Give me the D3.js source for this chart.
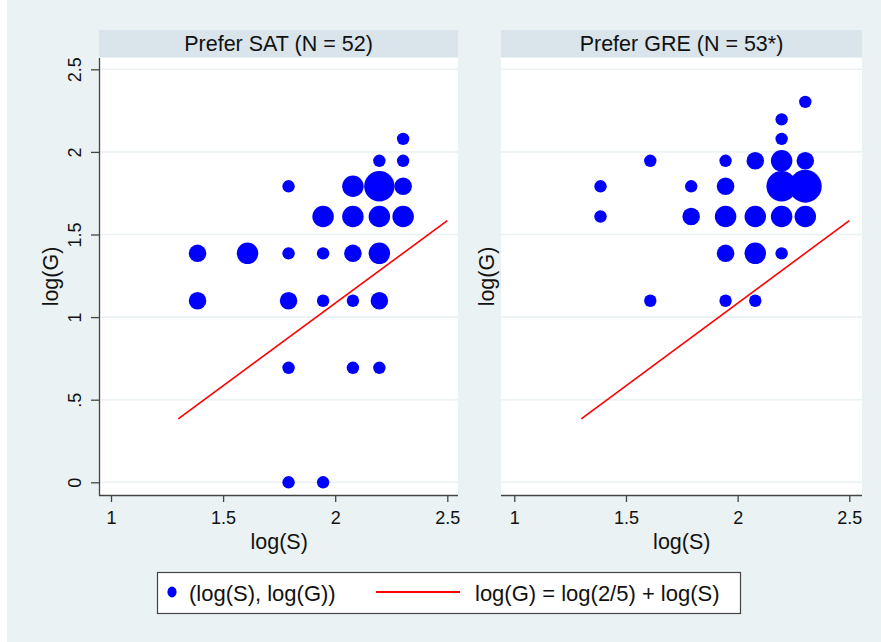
<!DOCTYPE html>
<html>
<head>
<meta charset="utf-8">
<script src="https://cdn.jsdelivr.net/npm/d3@7"></script>
<style>
  body { margin: 0; background: #eaf2f3; }
  svg { display: block; }
  text { font-family: "Liberation Sans", Arial, sans-serif; fill: #111; }
</style>
</head>
<body>
<div id="container"></div>
<script>
// values (natural logs of integer scores)
let panelTitles = ["Prefer SAT (N = 52)", "Prefer GRE (N = 53*)"];

let satLogS  = [1.386, 1.386, 1.609, 1.792, 1.792, 1.792, 1.792, 1.792, 1.946, 1.946, 1.946, 1.946, 2.079, 2.079, 2.079, 2.079, 2.079, 2.197, 2.197, 2.197, 2.197, 2.197, 2.197, 2.303, 2.303, 2.303, 2.303];
let satLogG  = [1.386, 1.099, 1.386, 1.792, 1.386, 1.099, 0.693, 0,     1.609, 1.386, 1.099, 0,     1.792, 1.609, 1.386, 1.099, 0.693, 1.946, 1.792, 1.609, 1.386, 1.099, 0.693, 2.079, 1.946, 1.792, 1.609];
let satCount = [2, 2, 3, 1, 1, 2, 1, 1, 3, 1, 1, 1, 3, 3, 2, 1, 1, 1, 6, 3, 3, 2, 1, 1, 1, 2, 3];

let greLogS  = [1.386, 1.386, 1.609, 1.609, 1.792, 1.792, 1.946, 1.946, 1.946, 1.946, 1.946, 2.079, 2.079, 2.079, 2.079, 2.197, 2.197, 2.197, 2.197, 2.197, 2.197, 2.303, 2.303, 2.303, 2.303];
let greLogG  = [1.792, 1.609, 1.946, 1.099, 1.792, 1.609, 1.946, 1.792, 1.609, 1.386, 1.099, 1.946, 1.609, 1.386, 1.099, 2.197, 2.079, 1.946, 1.792, 1.609, 1.386, 2.303, 1.946, 1.792, 1.609];
let greCount = [1, 1, 1, 1, 1, 2, 1, 2, 3, 2, 1, 2, 3, 3, 1, 1, 1, 3, 6, 3, 1, 1, 2, 7, 3];

let xTicks = [1, 1.5, 2, 2.5];
let xTickLabels = ["1", "1.5", "2", "2.5"];
let yTicks = [0, 0.5, 1, 1.5, 2, 2.5];
let yTickLabels = ["0", ".5", "1", "1.5", "2", "2.5"];

// reference line log(G) = log(2/5) + log(S)
let refLineX = [1.3, 2.5];
let refLineY = [0.384, 1.584];

let legendLabels = ["(log(S), log(G))", "log(G) = log(2/5) + log(S)"];

let w = 881;
let h = 642;
let plotTop = 58;
let plotBottom = 495;

let viz = d3.select("#container")
  .append("svg")
    .attr("width", w)
    .attr("height", h)
;

viz.append("rect").attr("x", 0).attr("y", 0).attr("width", w).attr("height", h).attr("fill", "#eaf2f3");
viz.append("rect").attr("x", 0).attr("y", 0).attr("width", 7).attr("height", h).attr("fill", "#ffffff");

let yScale = d3.scaleLinear().domain([0, 2.5]).range([482.3, 69.3]);
let rScale = d3.scaleSqrt().domain([0, 7]).range([0, 6.2 * Math.sqrt(7)]);

let panels = [
  {title: panelTitles[0], xs: satLogS, ys: satLogG, ns: satCount, left: 99, right: 458, x1: 111, x2: 447.3, yLabels: true, yTitleX: 58},
  {title: panelTitles[1], xs: greLogS, ys: greLogG, ns: greCount, left: 501, right: 862, x1: 514.3, x2: 849.3, yLabels: false, yTitleX: 494}
];

panels.forEach(function(p){
  let g = viz.append("g").attr("class", "panel");
  let xScale = d3.scaleLinear().domain([1, 2.5]).range([p.x1, p.x2]);

  // strip
  g.append("rect")
    .attr("x", p.left).attr("y", 30)
    .attr("width", p.right - p.left).attr("height", 27)
    .attr("fill", "#d9e5eb");
  g.append("text")
    .text(p.title)
    .attr("x", (p.left + p.right) / 2)
    .attr("y", 51)
    .attr("text-anchor", "middle")
    .attr("font-size", "21.5px");

  // plot region
  g.append("rect")
    .attr("x", p.left).attr("y", plotTop)
    .attr("width", p.right - p.left).attr("height", plotBottom - plotTop)
    .attr("fill", "#ffffff");

  // gridlines
  g.selectAll(".grid").data(yTicks).enter()
    .append("line")
      .attr("class", "grid")
      .attr("x1", p.left).attr("x2", p.right)
      .attr("y1", function(d){ return yScale(d); })
      .attr("y2", function(d){ return yScale(d); })
      .attr("stroke", "#eaf2f3")
      .attr("stroke-width", 1.6)
  ;

  // x axis
  let xAxis = d3.axisBottom(xScale).tickValues(xTicks)
    .tickFormat(function(d, i){ return xTickLabels[i]; })
    .tickSize(7).tickPadding(5);
  let xAxisGroup = g.append("g").attr("class", "xaxis")
    .attr("transform", "translate(0," + plotBottom + ")")
    .call(xAxis);
  xAxisGroup.select(".domain").remove();
  xAxisGroup.append("line")
    .attr("x1", p.left).attr("x2", p.right)
    .attr("y1", 0.5).attr("y2", 0.5)
    .attr("stroke", "#444").attr("stroke-width", 1.3);
  xAxisGroup.selectAll(".tick line").attr("stroke", "#444").attr("stroke-width", 1.3);
  xAxisGroup.selectAll(".tick text")
    .attr("font-size", "18px")
    .attr("font-family", "Liberation Sans, Arial, sans-serif")
    .attr("fill", "#111")
    .attr("dy", null)
    .attr("y", 29);

  g.append("text")
    .text("log(S)")
    .attr("x", xScale(1.75))
    .attr("y", 549)
    .attr("text-anchor", "middle")
    .attr("font-size", "21.5px");

  // y axis
  if (p.yLabels) {
    let yAxis = d3.axisLeft(yScale).tickValues(yTicks)
      .tickFormat(function(d, i){ return yTickLabels[i]; })
      .tickSize(8);
    let yAxisGroup = g.append("g").attr("class", "yaxis")
      .attr("transform", "translate(" + p.left + ",0)")
      .call(yAxis);
    yAxisGroup.select(".domain").remove();
    yAxisGroup.append("line")
      .attr("x1", 0.5).attr("x2", 0.5)
      .attr("y1", plotTop).attr("y2", plotBottom + 1)
      .attr("stroke", "#444").attr("stroke-width", 1.3);
    yAxisGroup.selectAll(".tick line").attr("stroke", "#444").attr("stroke-width", 1.3);
    yAxisGroup.selectAll(".tick text")
      .attr("font-size", "18px")
      .attr("font-family", "Liberation Sans, Arial, sans-serif")
      .attr("fill", "#111")
      .attr("x", null).attr("dy", null)
      .attr("text-anchor", "middle")
      .attr("transform", "translate(-18,0) rotate(-90)");
  }

  g.append("text")
    .text("log(G)")
    .attr("transform", "translate(" + p.yTitleX + "," + (plotTop + plotBottom) / 2 + ") rotate(-90)")
    .attr("text-anchor", "middle")
    .attr("font-size", "21.5px");

  // reference line
  let lineData = refLineX.map(function(d, i){ return [d, refLineY[i]]; });
  g.append("path")
    .datum(lineData)
    .attr("d", d3.line()
      .x(function(d){ return xScale(d[0]); })
      .y(function(d){ return yScale(d[1]); }))
    .attr("stroke", "#ff0000")
    .attr("stroke-width", 1.6)
    .attr("fill", "none");

  // weighted markers
  let pts = p.xs.map(function(d, i){ return {x: d, y: p.ys[i], n: p.ns[i]}; });
  g.selectAll(".pt").data(pts).enter()
    .append("circle")
      .attr("class", "pt")
      .attr("cx", function(d){ return xScale(d.x); })
      .attr("cy", function(d){ return yScale(d.y); })
      .attr("r", function(d){ return rScale(d.n); })
      .attr("fill", "#0000ff")
  ;
});

// legend
let legend = viz.append("g").attr("class", "legend");
legend.append("rect")
  .attr("x", 157.5).attr("y", 572.5)
  .attr("width", 583).attr("height", 41)
  .attr("fill", "#ffffff")
  .attr("stroke", "#444")
  .attr("stroke-width", 1.2);
legend.append("ellipse")
  .attr("cx", 172).attr("cy", 592)
  .attr("rx", 4.6).attr("ry", 5.4)
  .attr("fill", "#0000ff");
legend.append("text")
  .text(legendLabels[0])
  .attr("x", 189).attr("y", 601)
  .attr("font-size", "22px");
legend.append("line")
  .attr("x1", 376).attr("x2", 460)
  .attr("y1", 592).attr("y2", 592)
  .attr("stroke", "#ff0000")
  .attr("stroke-width", 2);
legend.append("text")
  .text(legendLabels[1])
  .attr("x", 475).attr("y", 601)
  .attr("font-size", "22px");
</script>
</body>
</html>
